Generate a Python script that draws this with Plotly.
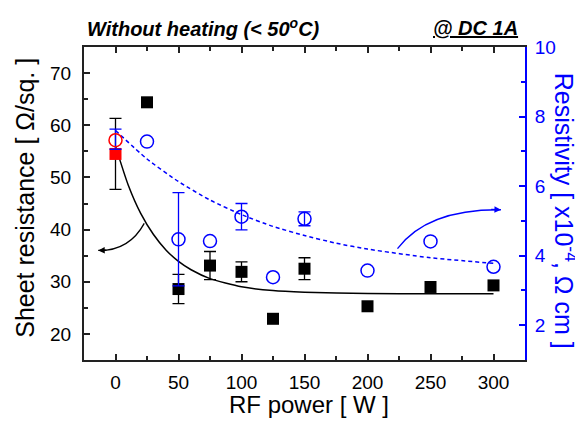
import plotly.graph_objects as go

# ---- data ----
rf_power = [0, 25, 50, 75, 100, 125, 150, 200, 250, 300]
sheet_res = [54.5, 64.4, 28.6, 33.1, 31.9, 22.9, 32.5, 25.3, 29.0, 29.3]
resistivity = [7.32, 7.28, 4.47, 4.42, 5.12, 3.38, 5.06, 3.57, 4.41, 3.68]

# points that carry error bars
sheet_err_x = [0, 50, 75, 100, 150]
sheet_err_y = [54.5, 28.6, 33.1, 31.9, 32.5]
sheet_err = [6.8, 2.8, 2.7, 1.9, 2.1]
res_err_x = [0, 50, 100, 150]
res_err_y = [7.32, 4.47, 5.12, 5.06]
res_err_plus = [0.32, 1.34, 0.38, 0.2]
res_err_minus = [0.26, 1.34, 0.38, 0.2]

sheet_fit_x = [0, 10, 20, 30, 40, 50, 60, 75, 100, 125, 150, 200, 250, 300]
sheet_fit_y = [56.0, 48.6, 43.1, 39.1, 36.1, 33.9, 32.3, 30.6, 29.05, 28.3, 28.0, 27.76, 27.7, 27.7]
res_fit_x = [0, 25, 50, 75, 100, 125, 150, 175, 200, 250, 300]
res_fit_y = [7.6, 6.78, 6.13, 5.60, 5.18, 4.84, 4.58, 4.36, 4.19, 3.94, 3.78]

x_ticks = [0, 50, 100, 150, 200, 250, 300]
y_ticks = [20, 30, 40, 50, 60, 70]
y2_ticks = [2, 4, 6, 8, 10]

FONT = "Liberation Sans, Arial, sans-serif"
BLUE = "#0000FF"
RED = "#FF0000"
AXC = "#222222"
CLEAR = "rgba(0,0,0,0)"

fig = go.Figure()

fig.add_trace(go.Scatter(x=sheet_fit_x, y=sheet_fit_y, mode="lines",
                         line=dict(color="black", width=1.5, shape="spline", smoothing=0.6),
                         yaxis="y", showlegend=False, hoverinfo="skip"))
fig.add_trace(go.Scatter(x=res_fit_x, y=res_fit_y, mode="lines",
                         line=dict(color=BLUE, width=1.5, dash="4px,3px", shape="spline", smoothing=0.6),
                         yaxis="y2", showlegend=False, hoverinfo="skip"))

# error bars (drawn on their own, only where the reference shows them)
fig.add_trace(go.Scatter(x=res_err_x, y=res_err_y, mode="markers",
                         marker=dict(size=1, color=CLEAR),
                         error_y=dict(type="data", array=res_err_plus, arrayminus=res_err_minus,
                                      symmetric=False, visible=True,
                                      color=BLUE, thickness=1.3, width=6),
                         yaxis="y2", showlegend=False, hoverinfo="skip"))
fig.add_trace(go.Scatter(x=sheet_err_x, y=sheet_err_y, mode="markers",
                         marker=dict(size=1, color=CLEAR),
                         error_y=dict(type="data", array=sheet_err, visible=True,
                                      color="black", thickness=1.3, width=6),
                         yaxis="y", showlegend=False, hoverinfo="skip"))

sq_colors = [RED] + ["black"] * (len(rf_power) - 1)
fig.add_trace(go.Scatter(x=rf_power, y=sheet_res, mode="markers",
                         marker=dict(symbol="square", size=12, color=sq_colors,
                                     line=dict(width=0)),
                         yaxis="y", showlegend=False))

circ_colors = [RED] + [BLUE] * (len(rf_power) - 1)
fig.add_trace(go.Scatter(x=rf_power, y=resistivity, mode="markers",
                         marker=dict(symbol="circle-open", size=13, color=circ_colors,
                                     line=dict(width=1.5, color=circ_colors)),
                         yaxis="y2", showlegend=False))

# curved arrows
fig.add_shape(type="path", path="M 22.8,41.2 Q 10.9,35.9 -13.7,36.0",
              xref="x", yref="y", line=dict(color="black", width=1.3))
fig.add_shape(type="path", path="M 223.8,4.20 Q 247.4,5.34 305.9,5.32",
              xref="x", yref="y2", line=dict(color=BLUE, width=1.3))
fig.add_annotation(x=-13.7, y=36.0, ax=-6, ay=36.05, xref="x", yref="y",
                   axref="x", ayref="y", text="", showarrow=True,
                   arrowhead=2, arrowsize=1, arrowwidth=1.3, arrowcolor="black")
fig.add_annotation(x=305.9, y=5.32, ax=297, ay=5.33, xref="x", yref="y2",
                   axref="x", ayref="y2", text="", showarrow=True,
                   arrowhead=2, arrowsize=1, arrowwidth=1.3, arrowcolor=BLUE)

# titles
fig.add_annotation(x=0.272, y=1.061, xref="paper", yref="paper",
                   text="<b><i>Without heating (&lt; 50<sup>o</sup>C)</i></b>",
                   showarrow=False, xanchor="center", yanchor="middle",
                   font=dict(family=FONT, size=20, color="black"))
fig.add_annotation(x=0.989, y=1.061, xref="paper", yref="paper",
                   text="<b><i><u>@ DC 1A</u></i></b>",
                   showarrow=False, xanchor="right", yanchor="middle",
                   font=dict(family=FONT, size=20, color="black"))
fig.add_annotation(x=0.51, y=-0.141, xref="paper", yref="paper",
                   text="RF power [ W ]", showarrow=False,
                   xanchor="center", yanchor="middle",
                   font=dict(family=FONT, size=24, color="black"))
fig.add_annotation(x=-0.134, y=0.518, xref="paper", yref="paper",
                   text="Sheet resistance [ Ω/sq. ]", showarrow=False, textangle=-90,
                   xanchor="center", yanchor="middle",
                   font=dict(family=FONT, size=25, color="black"))
fig.add_annotation(x=1.09, y=0.478, xref="paper", yref="paper",
                   text="Resistivity [ x10<sup>-4</sup>, Ω cm ]", showarrow=False, textangle=90,
                   xanchor="center", yanchor="middle",
                   font=dict(family=FONT, size=25, color=BLUE))

fig.update_layout(
    width=583, height=421,
    margin=dict(l=76, r=66, t=39, b=69, pad=0),
    paper_bgcolor="white", plot_bgcolor="white",
    font=dict(family=FONT, size=19, color="black"),
    xaxis=dict(range=[-25, 325], tickvals=x_ticks, ticks="inside", ticklen=6,
               tickwidth=1.5, tickcolor=AXC, showline=True, linecolor=AXC, linewidth=2,
               mirror="ticks", showgrid=False, zeroline=False,
               minor=dict(dtick=25, tick0=0, ticks="inside", ticklen=4, tickwidth=1.5,
                          tickcolor=AXC, showgrid=False),
               tickfont=dict(size=19, color="black"), ticklabelstandoff=4),
    yaxis=dict(range=[15, 75], tickvals=y_ticks, ticks="inside", ticklen=6,
               tickwidth=1.5, tickcolor=AXC, showline=True, linecolor=AXC, linewidth=2,
               showgrid=False, zeroline=False,
               minor=dict(dtick=5, tick0=0, ticks="inside", ticklen=4, tickwidth=1.5,
                          tickcolor=AXC, showgrid=False),
               tickfont=dict(size=19, color="black"), ticklabelstandoff=7),
    yaxis2=dict(range=[1, 10], tickvals=y2_ticks, overlaying="y", side="right", anchor="x",
                ticks="inside", ticklen=6, tickwidth=1.5, tickcolor=BLUE,
                showline=True, linecolor=BLUE, linewidth=2,
                showgrid=False, zeroline=False,
                minor=dict(dtick=1, tick0=0, ticks="inside", ticklen=4, tickwidth=1.5,
                           tickcolor=BLUE, showgrid=False),
                tickfont=dict(size=19, color=BLUE), ticklabelstandoff=4),
)

fig.write_html("out.html")
